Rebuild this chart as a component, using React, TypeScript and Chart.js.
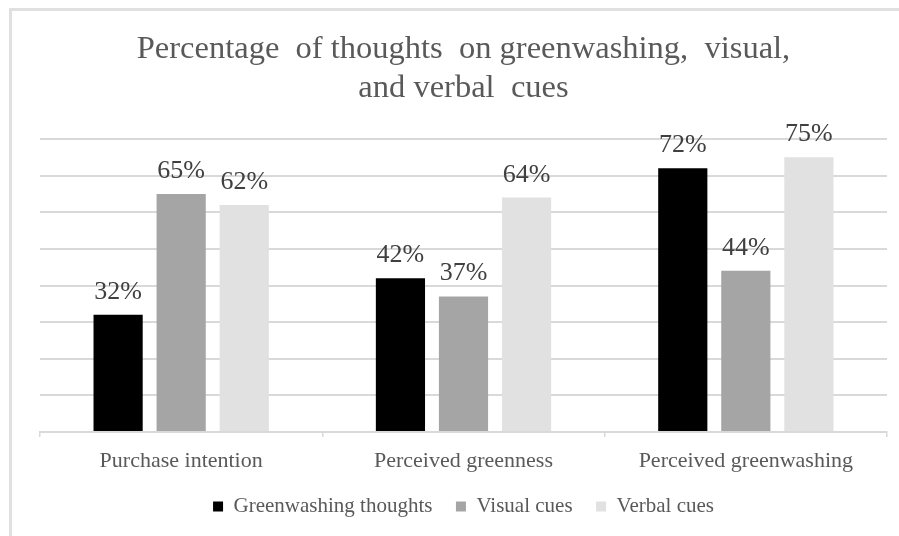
import React, { useEffect, useRef } from "react";
import { Chart, registerables } from "chart.js";

Chart.register(...registerables);

const categories = ["Purchase intention", "Perceived greenness", "Perceived greenwashing"];
const greenwashingThoughts = [32, 42, 72];
const visualCues = [65, 37, 44];
const verbalCues = [62, 64, 75];
const seriesNames = ["Greenwashing thoughts", "Visual cues", "Verbal cues"];
const titleLines = ["Percentage  of thoughts  on greenwashing,  visual,", "and verbal  cues"];

const SERIF = "'Liberation Serif', 'Times New Roman', serif";

const labelPlugin = {
  id: "barValueLabels",
  afterDatasetsDraw(chart: any) {
    const ctx = chart.ctx;
    ctx.save();
    ctx.font = `26px ${SERIF}`;
    ctx.fillStyle = "#404040";
    ctx.textAlign = "center";
    ctx.textBaseline = "alphabetic";
    chart.data.datasets.forEach((ds: any, i: number) => {
      const meta = chart.getDatasetMeta(i);
      meta.data.forEach((el: any, j: number) => {
        ctx.fillText(`${ds.data[j]}%`, el.x, el.y - 16);
      });
    });
    ctx.restore();
  },
};

export default function App() {
  const ref = useRef<HTMLCanvasElement>(null);
  useEffect(() => {
    if (!ref.current) return;
    const chart = new Chart(ref.current, {
      type: "bar",
      data: {
        labels: categories,
        datasets: [
          { label: seriesNames[0], data: greenwashingThoughts, backgroundColor: "#000000" },
          { label: seriesNames[1], data: visualCues, backgroundColor: "#a5a5a5" },
          { label: seriesNames[2], data: verbalCues, backgroundColor: "#e1e1e1" },
        ],
      },
      options: {
        animation: false,
        responsive: true,
        maintainAspectRatio: false,
        datasets: { bar: { categoryPercentage: 0.67, barPercentage: 0.78 } },
        layout: { padding: { left: 40, right: 12, top: 0, bottom: 9 } },
        plugins: {
          title: {
            display: true,
            text: titleLines,
            color: "#595959",
            font: { family: SERIF, size: 32.5, weight: "normal", lineHeight: 1.2 },
            padding: { top: 30, bottom: 31 },
          },
          legend: {
            display: true,
            position: "bottom",
            labels: {
              color: "#595959",
              font: { family: SERIF, size: 21 },
              boxWidth: 10,
              boxHeight: 10,
              padding: 23.5,
            },
          },
          tooltip: { enabled: false },
        },
        scales: {
          x: {
            afterFit: (scale: any) => {
              scale.height = 40.5;
            },
            grid: {
              display: true,
              drawOnChartArea: false,
              drawTicks: true,
              tickLength: 5,
              color: "#d9d9d9",
              lineWidth: 1.5,
              offset: true,
            },
            border: { display: true, color: "#d9d9d9", width: 2 },
            ticks: { color: "#595959", font: { family: SERIF, size: 22, lineHeight: 1 }, padding: 13.5 },
          },
          y: {
            min: 0,
            max: 80,
            ticks: { display: false, stepSize: 10 },
            grid: { color: "#d9d9d9", lineWidth: 2, drawTicks: false },
            border: { display: false },
          },
        },
      },
      plugins: [labelPlugin],
    });
    return () => chart.destroy();
  }, []);

  return (
    <div style={{ position: "fixed", left: 0, top: 0, width: 899, height: 536, background: "#ffffff", overflow: "hidden" }}>
      <div
        style={{
          position: "absolute",
          left: 9,
          top: 8,
          width: 1000,
          height: 1000,
          borderLeft: "3px solid #e0e0e0",
          borderTop: "3px solid #e0e0e0",
        }}
      />
      <canvas ref={ref} style={{ position: "absolute", left: 0, top: 0, width: 899, height: 536 }} />
    </div>
  );
}
